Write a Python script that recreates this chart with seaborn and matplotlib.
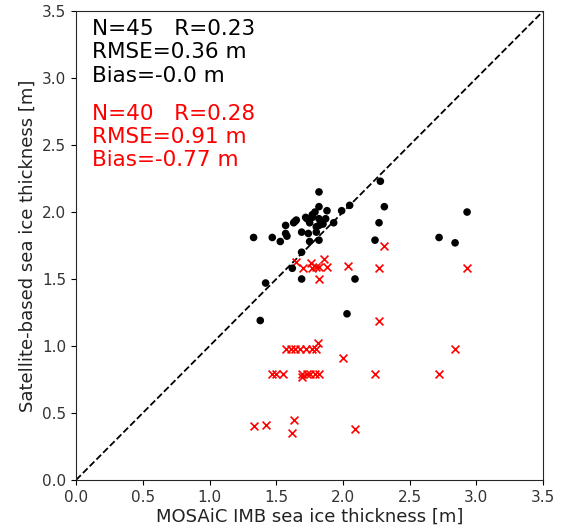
import numpy as np
import pandas as pd
import matplotlib
matplotlib.use("Agg")
import matplotlib.pyplot as plt
import seaborn as sns

# --- Dados ---
imb_black = [1.82, 1.82, 1.88, 1.79, 1.99, 2.05, 1.73, 1.77, 1.82, 1.87,
             1.65, 1.63, 1.57, 1.75, 1.82, 1.93, 1.69, 1.74, 1.80, 1.53,
             1.58, 1.75, 1.82, 1.69, 1.33, 1.47, 1.62, 1.42, 1.69, 2.09,
             1.38, 2.03, 2.24, 2.27, 2.28, 2.31, 2.93, 2.72, 2.84, 1.72,
             1.64, 1.85, 1.57, 1.80, 1.77]
sat_black = [2.15, 2.04, 2.01, 2.00, 2.01, 2.05, 1.95, 1.96, 1.95, 1.95,
             1.94, 1.92, 1.90, 1.92, 1.90, 1.92, 1.85, 1.84, 1.85, 1.78,
             1.82, 1.78, 1.79, 1.70, 1.81, 1.81, 1.58, 1.47, 1.50, 1.50,
             1.19, 1.24, 1.79, 1.92, 2.23, 2.04, 2.00, 1.81, 1.77, 1.96,
             1.93, 1.91, 1.84, 1.89, 1.98]

imb_red = [1.65, 1.86, 1.76, 1.70, 1.77, 1.80, 1.82, 1.88, 1.82, 2.04,
           2.31, 2.27, 2.93,
           1.57, 1.61, 1.64, 1.68, 1.72, 1.77, 1.80, 1.81, 2.84,
           2.00, 2.27,
           1.47, 1.50, 1.55, 1.69, 1.73, 1.75, 1.79, 1.82, 1.69, 2.24, 2.72,
           1.33, 1.42, 1.63, 1.62, 2.09]
sat_red = [1.63, 1.65, 1.62, 1.58, 1.58, 1.59, 1.59, 1.59, 1.50, 1.60,
           1.75, 1.58, 1.58,
           0.975, 0.975, 0.975, 0.975, 0.975, 0.975, 0.975, 1.02, 0.975,
           0.91, 1.19,
           0.79, 0.79, 0.79, 0.79, 0.79, 0.79, 0.79, 0.79, 0.77, 0.79, 0.79,
           0.40, 0.41, 0.45, 0.35, 0.38]

stats_black = "N=45   R=0.23\nRMSE=0.36 m\nBias=-0.0 m"
stats_red = "N=40   R=0.28\nRMSE=0.91 m\nBias=-0.77 m"
ticks = [0.0, 0.5, 1.0, 1.5, 2.0, 2.5, 3.0, 3.5]

df_black = pd.DataFrame({"imb": imb_black, "sat": sat_black})
df_red = pd.DataFrame({"imb": imb_red, "sat": sat_red})

# --- Plot ---
sns.set_style("ticks")
fig = plt.figure(figsize=(5.64, 5.32), dpi=100)
ax = fig.add_axes([0.135, 0.098, 0.828, 0.881])

ax.plot([0, 3.5], [0, 3.5], "k--", lw=1.3, zorder=1)
sns.scatterplot(data=df_black, x="imb", y="sat", color="black", marker="o",
                s=30, edgecolor="none", ax=ax, zorder=3)
sns.scatterplot(data=df_red, x="imb", y="sat", color="red", marker="x",
                s=32, linewidth=1.2, ax=ax, zorder=2)

ax.text(0.034, 0.983, stats_black, transform=ax.transAxes, fontsize=15.5,
        va="top", ha="left", color="black", linespacing=1.2)
ax.text(0.034, 0.803, stats_red, transform=ax.transAxes, fontsize=15.5,
        va="top", ha="left", color="red", linespacing=1.2)

ax.set_xlim(0, 3.5)
ax.set_ylim(0, 3.5)
ax.set_xticks(ticks)
ax.set_yticks(ticks)
ax.tick_params(labelsize=11, colors="black", labelcolor="#333333")
ax.set_xlabel("MOSAiC IMB sea ice thickness [m]", fontsize=13, color="#222222", labelpad=2)
ax.set_ylabel("Satellite-based sea ice thickness [m]", fontsize=13, color="#222222", labelpad=4)

fig.savefig("out.png", dpi=100)
